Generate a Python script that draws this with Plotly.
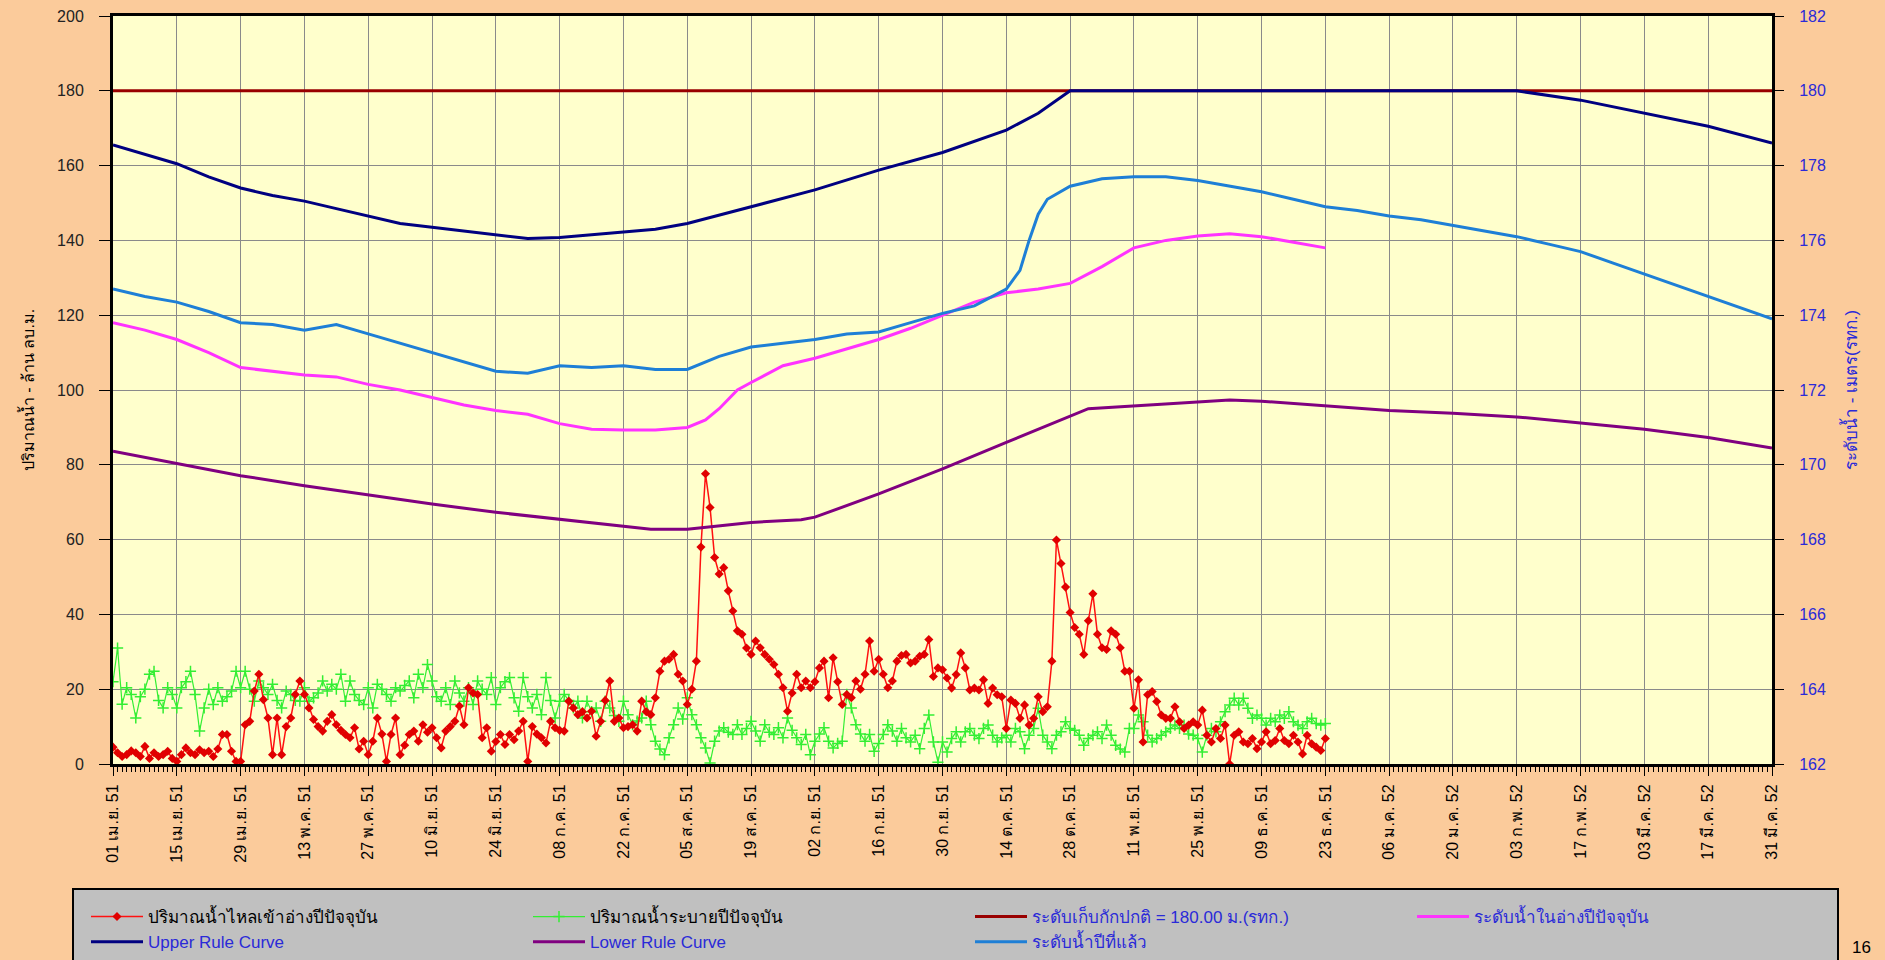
import plotly.graph_objects as go

# ---------------- data ----------------
tick_days = [0, 14, 28, 42, 56, 70, 84, 98, 112, 126, 140, 154, 168, 182,
             196, 210, 224, 238, 252, 266, 280, 294, 308, 322, 336, 350, 364]
tick_labels = ["01 เม.ย. 51", "15 เม.ย. 51", "29 เม.ย. 51", "13 พ.ค. 51", "27 พ.ค. 51",
               "10 มิ.ย. 51", "24 มิ.ย. 51", "08 ก.ค. 51", "22 ก.ค. 51", "05 ส.ค. 51",
               "19 ส.ค. 51", "02 ก.ย. 51", "16 ก.ย. 51", "30 ก.ย. 51", "14 ต.ค. 51",
               "28 ต.ค. 51", "11 พ.ย. 51", "25 พ.ย. 51", "09 ธ.ค. 51", "23 ธ.ค. 51",
               "06 ม.ค. 52", "20 ม.ค. 52", "03 ก.พ. 52", "17 ก.พ. 52", "03 มี.ค. 52",
               "17 มี.ค. 52", "31 มี.ค. 52"]

# daily inflow (million m3), day 0 = 01 Apr 2008
inflow = [4.5, 3, 2, 2.5, 3.5, 3, 2, 4.7, 1.5, 3, 2, 2.5, 3.4, 1.5, 0.7, 2.5, 4.3, 3, 2.5, 3.8,
          3, 3.4, 2, 4, 7.9, 7.9, 3.4, 0.7, 0.7, 10.5, 11.4, 19.5, 24, 17.2, 12.3, 2.5, 12.3, 2.5, 10, 12.3,
          18.6, 22.2, 18.6, 15, 11.9, 10, 8.8, 11.4, 13.2, 10.5, 9, 7.9, 7, 9.7, 4, 6.1, 2.5, 6.1, 12.3, 8,
          0.7, 7.9, 12.3, 2.5, 5, 7.9, 8.8, 6.1, 10.5, 8.5, 9.7, 7, 4.3, 8.8, 10, 11.4, 15.5, 10.5, 20.4, 19,
          18.6, 7, 9.7, 3.4, 6, 7.9, 5.2, 7.9, 6.5, 8.8, 11.4, 0.7, 10, 8, 7, 5.6, 11.4, 9.7, 9, 8.8,
          16.8, 15, 13.2, 14, 12.3, 14.1, 7.4, 11.4, 17, 22.2, 11.4, 12.3, 9.7, 10, 10.5, 8.8, 16.8, 14, 13.2, 17.7,
          24.8, 27.5, 28, 29.3, 24, 22.2, 15.9, 20, 27.5, 58, 77.6, 68.6, 55.2, 50.8, 52.5, 46.3, 40.9, 35.6, 34.7, 31,
          29.3, 32.9, 31.1, 29.3, 28, 26.6, 24, 20.4, 14.1, 19, 24, 20.4, 22.2, 20.4, 22, 25.7, 27.5, 17.7, 28.4, 22,
          15.9, 18.6, 17.7, 22.2, 20, 24, 32.9, 24.8, 28, 24, 20.4, 22.2, 27.5, 29, 29.3, 27, 27.5, 28.8, 29.3, 33.3,
          23.4, 25.7, 25.2, 23, 20.3, 23.9, 29.7, 25.7, 19.8, 20.3, 19.8, 22.5, 16.2, 20.3, 18.5, 18, 9.5, 17.1, 16.2, 12.2,
          15.8, 10.4, 12.2, 18, 14, 15.3, 27.5, 59.9, 53.6, 47.3, 40.5, 36.5, 34.7, 29.3, 38.3, 45.5, 34.7, 31.1, 30.6, 35.6,
          34.7, 31.1, 24.8, 24.8, 14.9, 22.5, 5.9, 18.5, 19.4, 16.7, 13.1, 12.2, 12.2, 15.3, 11.3, 9.5, 10.4, 11.3, 10.4, 14.4,
          7.7, 5.9, 9.5, 6.8, 10.4, 0, 7.7, 8.6, 5.9, 5.4, 6.8, 4.1, 5.9, 8.6, 5.4, 6.3, 9.5, 6.3, 5.4, 7.7,
          5.9, 2.7, 7.7, 5.4, 4.5, 3.6, 6.8]

# daily release (million m3)
outflow = [22, 31, 16, 20.4, 18.6, 12.3, 18, 20, 24, 24.8, 17, 15, 20.4, 18.6, 15, 20.4, 22, 24.8, 18.6, 8.8,
           15, 20, 15.9, 20.4, 16.8, 18, 19.5, 24.8, 20.4, 24.8, 20, 16.8, 22.2, 20.4, 18.6, 21.3, 17, 15, 19.5, 18.6,
           17, 16.8, 20.4, 16.8, 17.7, 19, 22.2, 19.5, 21.3, 20, 24, 16.8, 22.2, 18.6, 17, 15.9, 20.4, 15, 21.3, 20,
           18.6, 16.8, 20.4, 19.5, 21, 22.2, 17.7, 24, 20.4, 26.6, 22.2, 18, 16.8, 20.4, 15.9, 22.2, 19, 16.8, 20.4, 15.9,
           22.2, 20, 18.6, 23.1, 15.9, 20.4, 22, 23.1, 17.7, 14.1, 23.1, 18, 15, 18.6, 13.2, 23.1, 17, 12.3, 16.8, 18.6,
           17, 15, 16.8, 12.3, 16.8, 14, 15, 11.4, 16.8, 15, 13, 11.4, 16.8, 13.2, 10.5, 11.5, 12.3, 16.8, 10.5, 6.1,
           4, 2.5, 7, 10.5, 15, 12, 17.7, 13.2, 10.5, 7, 4.3, 0.3, 6.1, 8.8, 9.7, 8.5, 7.9, 10.5, 7.9, 9.5,
           11.4, 8.8, 6.1, 10.5, 8.5, 7.9, 9.7, 7, 12.3, 9, 7, 5.2, 7.9, 2.5, 6.1, 8, 9.7, 6.1, 4.3, 5.5,
           6.1, 18.6, 15, 10.5, 8, 6.1, 7.9, 3.4, 5.5, 7.9, 10.5, 8.8, 6.1, 9.5, 7, 5.9, 7.7, 4.1, 9.5, 13.1,
           5.9, 0.5, 5.9, 3.2, 6.8, 8.6, 5.9, 8.6, 9.5, 7.7, 6.8, 9.5, 10.4, 7.7, 5.9, 7, 7.7, 5.9, 9.5, 8.6,
           4.1, 7.7, 9.5, 14.9, 7.7, 5.9, 4.1, 7.7, 8.6, 11.3, 9.5, 9, 7.7, 5, 6.8, 7.7, 8.6, 6.8, 10.4, 7.7,
           5, 4, 3.2, 9.5, 9.5, 13.1, 11.3, 7.7, 5.9, 6.8, 7.7, 8.6, 9.5, 10.4, 9.5, 10.4, 8, 7.7, 6.8, 3.2,
           7.7, 9.5, 8.6, 11.3, 14, 15.8, 17.6, 15.8, 17.6, 14.9, 12.2, 13.1, 12.2, 10.4, 12.2, 11.3, 13.1, 12.2, 14, 11.3,
           10.4, 9.5, 11.3, 12.2, 10.8, 10.4, 10.8]

# water levels (m MSL)
normal_days = [0, 364]
normal_level = [180.0, 180.0]

current_days = [0, 7, 14, 21, 28, 35, 42, 49, 56, 63, 70, 77, 84, 91, 98, 105, 112, 119, 126, 130,
                133, 137, 140, 147, 154, 161, 168, 175, 182, 189, 196, 203, 210, 217, 224, 231, 238, 245,
                252, 259, 266]
current_level = [173.80, 173.60, 173.35, 173.00, 172.60, 172.50, 172.40, 172.35, 172.15, 172.00,
                 171.80, 171.60, 171.45, 171.35, 171.10, 170.95, 170.93, 170.93, 171.00, 171.20,
                 171.50, 172.00, 172.20, 172.65, 172.85, 173.10, 173.35, 173.65, 174.00, 174.35,
                 174.60, 174.70, 174.85, 175.30, 175.80, 176.00, 176.12, 176.18, 176.10, 175.95, 175.80]

upper_days = [0, 7, 14, 21, 28, 35, 42, 49, 56, 63, 70, 77, 84, 91, 98, 105, 112, 119, 126, 140,
              154, 168, 182, 196, 203, 210, 308, 322, 336, 350, 364]
upper_curve = [178.55, 178.30, 178.05, 177.70, 177.40, 177.20, 177.05, 176.85, 176.65, 176.45,
               176.35, 176.25, 176.15, 176.05, 176.08, 176.15, 176.22, 176.30, 176.45, 176.90,
               177.35, 177.88, 178.35, 178.95, 179.40, 180.00, 180.00, 179.75, 179.40, 179.05, 178.60]

lower_days = [0, 14, 28, 42, 56, 70, 84, 98, 112, 118, 126, 131, 140, 151, 154, 168, 182, 196, 210,
              214, 230, 245, 252, 266, 280, 294, 308, 322, 336, 350, 364]
lower_curve = [170.36, 170.04, 169.71, 169.44, 169.19, 168.95, 168.73, 168.55, 168.37, 168.28,
               168.28, 168.34, 168.46, 168.53, 168.60, 169.22, 169.89, 170.60, 171.30, 171.50,
               171.62, 171.73, 171.70, 171.58, 171.45, 171.38, 171.28, 171.12, 170.95, 170.73, 170.45]

lastyear_days = [0, 7, 14, 21, 28, 35, 42, 49, 56, 63, 70, 77, 84, 91, 98, 105, 112, 119, 126, 133,
                 140, 147, 154, 161, 168, 175, 182, 189, 193, 196, 199, 201, 203, 205, 210, 217, 224,
                 231, 238, 245, 252, 259, 266, 273, 280, 287, 294, 301, 308, 315, 322, 329, 336, 343,
                 350, 357, 364]
lastyear_level = [174.70, 174.50, 174.35, 174.10, 173.80, 173.75, 173.60, 173.75, 173.50, 173.25,
                  173.00, 172.75, 172.50, 172.45, 172.65, 172.60, 172.65, 172.55, 172.55, 172.90,
                  173.15, 173.25, 173.35, 173.50, 173.55, 173.80, 174.05, 174.25, 174.50, 174.70,
                  175.20, 176.00, 176.70, 177.10, 177.45, 177.65, 177.70, 177.70, 177.60, 177.45,
                  177.30, 177.10, 176.90, 176.80, 176.65, 176.55, 176.40, 176.25, 176.10, 175.90,
                  175.70, 175.40, 175.10, 174.80, 174.50, 174.20, 173.90]

names = ["ปริมาณน้ำไหลเข้าอ่างปีปัจจุบัน", "ปริมาณน้ำระบายปีปัจจุบัน",
         "ระดับเก็บกักปกติ = 180.00 ม.(รทก.)", "ระดับน้ำในอ่างปีปัจจุบัน",
         "Upper Rule Curve", "Lower Rule Curve", "ระดับน้ำปีที่แล้ว"]

# ---------------- figure ----------------
FONT = "Liberation Sans, Arial, Tahoma, sans-serif"
BLUE_TXT = "#2A2AD8"

def blue(s):
    return "<span style='color:%s'>%s</span>" % (BLUE_TXT, s)

fig = go.Figure()

fig.add_trace(go.Scatter(
    x=list(range(len(outflow))), y=outflow, name=names[1], mode="lines+markers",
    line=dict(color="#33EE33", width=1.2),
    marker=dict(symbol="cross-thin", size=8, line=dict(color="#33EE33", width=1.5)),
    yaxis="y", legendrank=2))
fig.add_trace(go.Scatter(
    x=list(range(len(inflow))), y=inflow, name=names[0], mode="lines+markers",
    line=dict(color="#FF1010", width=1.5),
    marker=dict(symbol="diamond", size=7, color="#E00000"),
    yaxis="y", legendrank=1))
fig.add_trace(go.Scatter(
    x=normal_days, y=normal_level, name=blue(names[2]), mode="lines",
    line=dict(color="#990000", width=3), yaxis="y2", legendrank=3))
fig.add_trace(go.Scatter(
    x=current_days, y=current_level, name=blue(names[3]), mode="lines",
    line=dict(color="#FF33FF", width=3), yaxis="y2", legendrank=4))
fig.add_trace(go.Scatter(
    x=upper_days, y=upper_curve, name=blue(names[4]), mode="lines",
    line=dict(color="#000080", width=3), yaxis="y2", legendrank=5))
fig.add_trace(go.Scatter(
    x=lower_days, y=lower_curve, name=blue(names[5]), mode="lines",
    line=dict(color="#800080", width=3), yaxis="y2", legendrank=6))
fig.add_trace(go.Scatter(
    x=lastyear_days, y=lastyear_level, name=blue(names[6]), mode="lines",
    line=dict(color="#1E7FD6", width=3), yaxis="y2", legendrank=7))

W, H = 1885, 960
L, R, T, B = 113, 113, 16, 196
pw, ph = W - L - R, H - T - B

def px_x(p):
    return (p - L) / pw

def px_y(p):
    return (H - B - p) / ph

fig.update_layout(
    width=W, height=H,
    margin=dict(l=L, r=R, t=T, b=B, pad=0, autoexpand=False),
    paper_bgcolor="#FBCB9B",
    plot_bgcolor="#FFFFCC",
    font=dict(family=FONT, size=16, color="black"),
    showlegend=True,
    legend=dict(
        orientation="h", x=px_x(86), y=px_y(899), xanchor="left", yanchor="top",
        bgcolor="rgba(0,0,0,0)", borderwidth=0,
        font=dict(family=FONT, size=17, color="black"),
        itemwidth=52, entrywidth=375, traceorder="normal",
    ),
    xaxis=dict(
        range=[0, 364], tickmode="array", tickvals=tick_days, ticktext=tick_labels,
        tickangle=-90, tickfont=dict(size=16, color="black"),
        ticks="outside", ticklen=9, tickwidth=1, tickcolor="black",
        showgrid=True, gridcolor="#8A8A8A", gridwidth=1,
        showline=True, linecolor="black", linewidth=3, mirror=True,
        zeroline=False, ticklabelstandoff=2,
        minor=dict(tickmode="linear", tick0=0, dtick=1, ticks="outside",
                   ticklen=5, tickwidth=1, tickcolor="black", showgrid=False),
    ),
    yaxis=dict(
        range=[0, 200], tickmode="linear", tick0=0, dtick=20,
        ticks="outside", ticklen=11, tickwidth=1, tickcolor="black",
        tickfont=dict(size=16, color="#222222"), ticklabelstandoff=12,
        showgrid=True, gridcolor="#8A8A8A", gridwidth=1,
        showline=True, linecolor="black", linewidth=3, mirror=True,
        zeroline=False,
        title=dict(text="ปริมาณน้ำ - ล้าน ลบ.ม.", font=dict(size=16, color="black"), standoff=19),
    ),
    yaxis2=dict(
        range=[162, 182], tickmode="linear", tick0=162, dtick=2,
        overlaying="y", side="right",
        ticks="outside", ticklen=11, tickwidth=1, tickcolor="black",
        tickfont=dict(size=16, color=BLUE_TXT), ticklabelstandoff=12,
        showgrid=False, showline=False, zeroline=False,
        title=dict(text="ระดับน้ำ - เมตร(รทก.)", font=dict(size=17, color=BLUE_TXT), standoff=20),
    ),
    shapes=[dict(type="rect", xref="paper", yref="paper",
                 x0=px_x(73), x1=px_x(1838), y0=px_y(889), y1=px_y(985),
                 fillcolor="#C0C0C0", line=dict(color="black", width=2), layer="above")],
    annotations=[dict(text="16", xref="paper", yref="paper", x=px_x(1861), y=px_y(947),
                      showarrow=False, font=dict(size=17, color="black"),
                      xanchor="center", yanchor="middle")],
)

fig.write_html("out.html", config={"displayModeBar": False},
               post_script="document.body.style.margin='0';")
